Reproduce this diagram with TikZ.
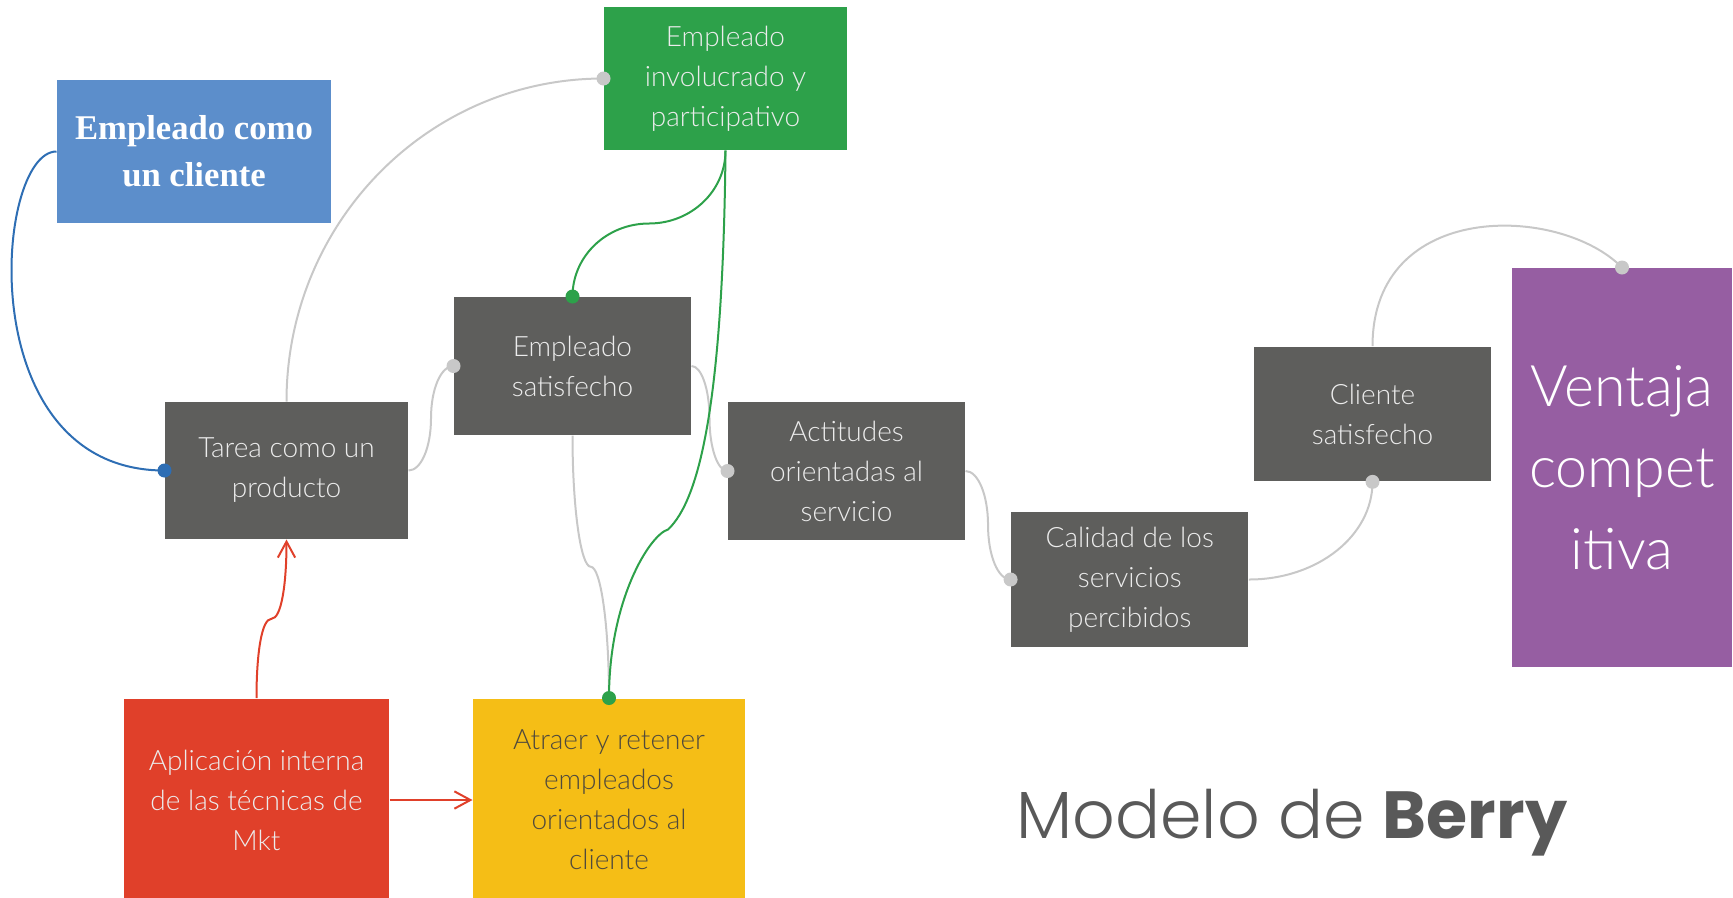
\documentclass[tikz,border=0pt]{standalone}
\usepackage{fontspec}
\setmainfont{Lato Light}
\newfontfamily\titlefont{Poppins Light}[BoldFont={Poppins Bold}]
\newfontfamily\seriffont{Liberation Serif}
\usetikzlibrary{arrows.meta,calc}

\definecolor{boxgray}{RGB}{94,94,92}
\definecolor{boxtext}{RGB}{236,236,236}
\definecolor{linegray}{RGB}{200,200,200}
\definecolor{berrygreen}{RGB}{45,161,74}
\definecolor{berryblue}{RGB}{92,142,203}
\definecolor{lineblue}{RGB}{46,110,180}
\definecolor{berryred}{RGB}{224,64,42}
\definecolor{berryyellow}{RGB}{245,190,22}
\definecolor{yellowtext}{RGB}{80,74,60}
\definecolor{berrypurple}{RGB}{150,94,162}
\definecolor{titlegray}{RGB}{89,89,89}

\tikzset{every picture/.style={line width=0.75pt}}
\tikzset{
  caja/.style={inner sep=0pt, align=center, text=boxtext, font=\fontsize{21}{30}\selectfont},
  cajagris/.style={caja, fill=boxgray},
  enlace/.style={draw=linegray, line width=1.5pt},
  flecha/.style={draw=berryred, line width=1.5pt, -{Straight Barb[length=12pt,width=13pt]}}
}

\begin{document}
\begin{tikzpicture}[x=0.75pt,y=0.75pt,yscale=-1,xscale=1]
\useasboundingbox (0,0) rectangle (1733,897);

%Shape: Rectangle [empleado como un cliente]
\node [caja, fill=berryblue, text=white, font=\seriffont\bfseries\fontsize{26}{35}\selectfont, minimum width=205.5pt, minimum height=107.25pt] (empcliente) at (194,151.5) {Empleado como\\un cliente};
%Shape: Rectangle [empleado involucrado]
\node [caja, fill=berrygreen, minimum width=182.25pt, minimum height=107.25pt] (involucrado) at (725.5,78.5) {Empleado\\involucrado y\\participativo};
%Shape: Rectangle [empleado satisfecho]
\node [cajagris, minimum width=177.75pt, minimum height=103.5pt] (satisfecho) at (572.5,366) {Empleado\\satisfecho};
%Shape: Rectangle [tarea]
\node [cajagris, minimum width=182.25pt, minimum height=102.75pt] (tarea) at (286.5,470.5) {Tarea como un\\producto};
%Shape: Rectangle [actitudes]
\node [cajagris, minimum width=177.75pt, minimum height=103.5pt] (actitudes) at (846.5,471) {Actitudes\\orientadas al\\servicio};
%Shape: Rectangle [calidad]
\node [cajagris, minimum width=178pt, minimum height=101.25pt] (calidad) at (1129.75,579.5) {Calidad de los\\servicios\\percibidos};
%Shape: Rectangle [cliente satisfecho]
\node [cajagris, minimum width=177.75pt, minimum height=101pt] (cliente) at (1372.5,414) {Cliente\\satisfecho};
%Shape: Rectangle [ventaja]
\node [caja, fill=berrypurple, text=white, font=\fontsize{43}{61}\selectfont, minimum width=165pt, minimum height=299.25pt] (ventaja) at (1622,467.5) {Ventaja\\compet\\itiva};
%Shape: Rectangle [aplicacion mkt]
\node [caja, fill=berryred, minimum width=198.75pt, minimum height=152.25pt] (mkt) at (256.5,800) {Aplicación interna\\de las técnicas de\\Mkt};
%Shape: Rectangle [atraer y retener]
\node [caja, fill=berryyellow, text=yellowtext, minimum width=204pt, minimum height=152.25pt] (atraer) at (609,800) {Atraer y retener\\empleados\\orientados al\\cliente};

%Curve Lines
\draw [lineblue, line width=1.5pt] (empcliente.west) .. controls +(-62,0) and +(-195,0) .. (tarea.west) ;
\draw [enlace] (tarea.north) .. controls +(0,-178.7) and +(-175.4,0) .. (involucrado.west) ;
\draw [enlace] (tarea.east) .. controls +(12.7,0) and +(0,29) .. ($(tarea.east)!.5!(satisfecho.west)$) .. controls +(0,-29) and +(-12.7,0) .. (satisfecho.west) ;
\draw [enlace] (satisfecho.east) .. controls +(10,0) and +(0,-29) .. ($(satisfecho.east)!.5!(actitudes.west)$) .. controls +(0,29) and +(-10,0) .. (actitudes.west) ;
\draw [enlace] (actitudes.east) .. controls +(12.7,0) and +(0,-30) .. ($(actitudes.east)!.5!(calidad.west)$) .. controls +(0,30) and +(-12.7,0) .. (calidad.west) ;
\draw [enlace] (calidad.east) .. controls +(68.5,0) and +(0,54) .. (cliente.south) ;
\draw [enlace] (cliente.north) .. controls +(0,-147) and +(-62,-63) .. (ventaja.north) ;
\draw [enlace] (satisfecho.south) .. controls +(0,72.8) and +(-10,0) .. ($(satisfecho.south)!.5!(atraer.north)$) .. controls +(10,0) and +(0,-72.8) .. (atraer.north) ;
\draw [berrygreen, line width=1.5pt] (involucrado.south) .. controls +(0,40.6) and +(42.2,0) .. ($(involucrado.south)!.5!(satisfecho.north)$) .. controls +(-42.2,0) and +(0,-40.6) .. (satisfecho.north) ;
\draw [berrygreen, line width=1.5pt] (involucrado.south) .. controls +(-2.5,250) and +(32,-30) .. ($(atraer.north)+(59,-168.5)$) .. controls +(-18,5) and +(0,-98.5) .. (atraer.north) ;

%Straight Lines
\draw [flecha] (mkt.north) .. controls +(0,-44) and +(-10,0) .. ($(mkt.north)!.5!(tarea.south)$) .. controls +(10,0) and +(0,44) .. (tarea.south) ;
\draw [flecha] (mkt.east) -- (atraer.west) ;

%Shape: Circle
\fill [lineblue] (tarea.west) circle (7) ;
\fill [linegray] (involucrado.west) circle (7) ;
\fill [linegray] (satisfecho.west) circle (7) ;
\fill [linegray] (actitudes.west) circle (7) ;
\fill [linegray] (calidad.west) circle (7) ;
\fill [linegray] (cliente.south) circle (7) ;
\fill [linegray] (ventaja.north) circle (7) ;
\fill [berrygreen] (satisfecho.north) circle (7) ;
\fill [berrygreen] (atraer.north) circle (7) ;

% Text Node
\node [anchor=base west, inner sep=0pt, text=titlegray, font=\titlefont\fontsize{50}{60}\selectfont] (titulo) at (1016,838) {Modelo de \textbf{Berry}};

\end{tikzpicture}
\end{document}
